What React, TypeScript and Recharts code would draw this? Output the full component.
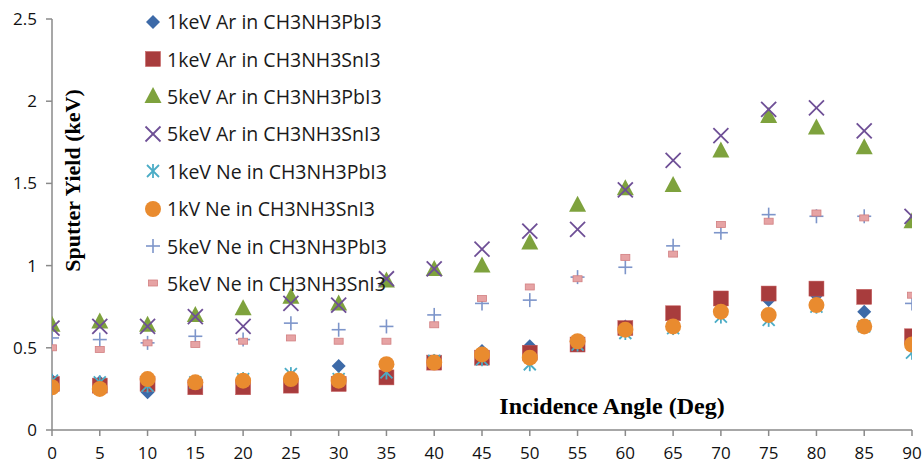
import { ScatterChart, Scatter, XAxis, YAxis, Legend, Label } from "recharts";

// incidence angle in degrees
const angles = [0, 5, 10, 15, 20, 25, 30, 35, 40, 45, 50, 55, 60, 65, 70, 75, 80, 85, 90];

const arPb1 = [0.30, 0.29, 0.23, 0.27, 0.29, 0.30, 0.39, 0.35, 0.42, 0.48, 0.51, 0.53, 0.63, 0.70, 0.73, 0.79, 0.82, 0.72, 0.55];
const arSn1 = [0.28, 0.27, 0.28, 0.26, 0.26, 0.27, 0.28, 0.32, 0.41, 0.44, 0.47, 0.52, 0.62, 0.71, 0.80, 0.83, 0.86, 0.81, 0.57];
const arPb5 = [0.64, 0.66, 0.64, 0.70, 0.74, 0.81, 0.77, 0.91, 0.98, 1.00, 1.14, 1.37, 1.47, 1.49, 1.70, 1.91, 1.84, 1.72, 1.27];
const arSn5 = [0.62, 0.63, 0.63, 0.69, 0.63, 0.77, 0.76, 0.92, 0.98, 1.10, 1.21, 1.22, 1.46, 1.64, 1.79, 1.95, 1.96, 1.82, 1.30];
const nePb1 = [0.30, 0.29, 0.27, 0.29, 0.31, 0.34, 0.31, 0.35, 0.42, 0.43, 0.40, 0.52, 0.59, 0.62, 0.69, 0.67, 0.75, 0.63, 0.47];
const neSn1 = [0.26, 0.25, 0.31, 0.29, 0.30, 0.31, 0.30, 0.40, 0.41, 0.46, 0.44, 0.54, 0.61, 0.63, 0.72, 0.70, 0.76, 0.63, 0.52];
const nePb5 = [0.56, 0.55, 0.53, 0.57, 0.55, 0.65, 0.61, 0.63, 0.70, 0.77, 0.79, 0.93, 0.99, 1.12, 1.20, 1.31, 1.30, 1.30, 0.77];
const neSn5 = [0.50, 0.49, 0.53, 0.52, 0.54, 0.56, 0.54, 0.54, 0.64, 0.80, 0.87, 0.92, 1.05, 1.07, 1.25, 1.27, 1.32, 1.29, 0.82];

const xTicks = [0, 5, 10, 15, 20, 25, 30, 35, 40, 45, 50, 55, 60, 65, 70, 75, 80, 85, 90];
const yTicks = [0, 0.5, 1, 1.5, 2, 2.5];

const toPoints = (vals: number[]) => angles.map((a, i) => ({ angle: a, y: vals[i] }));

type P = { cx?: number; cy?: number };

const Diamond = ({ cx = 0, cy = 0 }: P) => (
  <polygon points={`${cx},${cy - 7} ${cx + 7},${cy} ${cx},${cy + 7} ${cx - 7},${cy}`} fill="#3d6aa8" />
);
const Square = ({ cx = 0, cy = 0 }: P) => (
  <rect x={cx - 7.5} y={cy - 7.5} width={15} height={15} fill="#a83c3d" stroke="#c45a5b" strokeWidth={0.5} />
);
const Triangle = ({ cx = 0, cy = 0 }: P) => (
  <polygon points={`${cx},${cy - 9} ${cx + 8.5},${cy + 7} ${cx - 8.5},${cy + 7}`} fill="#7ea23d" />
);
const Cross = ({ cx = 0, cy = 0 }: P) => (
  <g stroke="#6e4f96" strokeWidth={1.8}>
    <line x1={cx - 7.5} y1={cy - 7.5} x2={cx + 7.5} y2={cy + 7.5} />
    <line x1={cx - 7.5} y1={cy + 7.5} x2={cx + 7.5} y2={cy - 7.5} />
  </g>
);
const Star = ({ cx = 0, cy = 0 }: P) => (
  <g stroke="#4bacc6" strokeWidth={1.8}>
    <line x1={cx - 6} y1={cy - 6} x2={cx + 6} y2={cy + 6} />
    <line x1={cx - 6} y1={cy + 6} x2={cx + 6} y2={cy - 6} />
    <line x1={cx} y1={cy - 7} x2={cx} y2={cy + 7} />
  </g>
);
const Dot = ({ cx = 0, cy = 0 }: P) => <circle cx={cx} cy={cy} r={8} fill="#e98b2f" />;
const Plus = ({ cx = 0, cy = 0 }: P) => (
  <g stroke="#7d95ca" strokeWidth={1.6}>
    <line x1={cx - 7} y1={cy} x2={cx + 7} y2={cy} />
    <line x1={cx} y1={cy - 7} x2={cx} y2={cy + 7} />
  </g>
);
const Dash = ({ cx = 0, cy = 0 }: P) => (
  <rect x={cx - 4.5} y={cy - 3} width={9} height={6} fill="#e6a3a4" stroke="#d27f81" strokeWidth={0.8} />
);

const series = [
  { name: "1keV Ar in CH3NH3PbI3", data: arPb1, Shape: Diamond },
  { name: "1keV Ar in CH3NH3SnI3", data: arSn1, Shape: Square },
  { name: "5keV Ar in CH3NH3PbI3", data: arPb5, Shape: Triangle },
  { name: "5keV Ar in CH3NH3SnI3", data: arSn5, Shape: Cross },
  { name: "1keV Ne in CH3NH3PbI3", data: nePb1, Shape: Star },
  { name: "1kV Ne in CH3NH3SnI3", data: neSn1, Shape: Dot },
  { name: "5keV Ne in CH3NH3PbI3", data: nePb5, Shape: Plus },
  { name: "5keV Ne in CH3NH3SnI3", data: neSn5, Shape: Dash },
];

const tickStyle = { fontSize: 17, fill: "#111", fontFamily: "'Open Sans', sans-serif" };

const LegendBox = () => (
  <div style={{ fontFamily: "'Open Sans', sans-serif", fontSize: 19.5, color: "#1a1a1a", whiteSpace: "nowrap" }}>
    {series.map(({ name, Shape }) => (
      <div key={name} style={{ display: "flex", alignItems: "center", height: 37.4 }}>
        <svg width={20} height={20} style={{ marginRight: 4 }}>
          <Shape cx={10} cy={10} />
        </svg>
        <span>{name}</span>
      </div>
    ))}
  </div>
);

export default function App() {
  return (
    <div style={{ position: "absolute", left: 0, top: 0, background: "#fff" }}>
      <ScatterChart width={924} height={466} margin={{ top: 19, right: 12, bottom: 0, left: 0 }}>
        <XAxis
          type="number"
          dataKey="angle"
          domain={[0, 90]}
          ticks={xTicks}
          interval={0}
          height={36}
          stroke="#8a8a8a"
          strokeWidth={1.5}
          tickSize={6}
          tickMargin={11}
          tick={tickStyle}
          allowDataOverflow
        >
          <Label
            value="Incidence Angle (Deg)"
            position="top"
            offset={16}
            dx={130}
            style={{ fontFamily: "'Liberation Serif', serif", fontWeight: 700, fontSize: 24, fill: "#000" }}
          />
        </XAxis>
        <YAxis
          type="number"
          dataKey="y"
          domain={[0, 2.5]}
          ticks={yTicks}
          interval={0}
          width={52}
          stroke="#8a8a8a"
          strokeWidth={1.5}
          tickSize={6}
          tickMargin={9}
          tick={tickStyle}
        >
          <Label
            value="Sputter Yield (keV)"
            angle={-90}
            position="insideLeft"
            offset={72}
            dy={-44}
            style={{ fontFamily: "'Liberation Serif', serif", fontWeight: 700, fontSize: 22, fill: "#000", textAnchor: "middle" }}
          />
        </YAxis>
        <Legend
          layout="vertical"
          align="center"
          verticalAlign="middle"
          content={() => <LegendBox />}
          wrapperStyle={{ position: "absolute", left: 143, top: 3, width: 300 }}
        />
        {series.map(({ name, data, Shape }) => (
          <Scatter
            key={name}
            name={name}
            data={toPoints(data)}
            shape={(p: any) => <Shape cx={p.cx} cy={p.cy} />}
            isAnimationActive={false}
          />
        ))}
      </ScatterChart>
    </div>
  );
}
